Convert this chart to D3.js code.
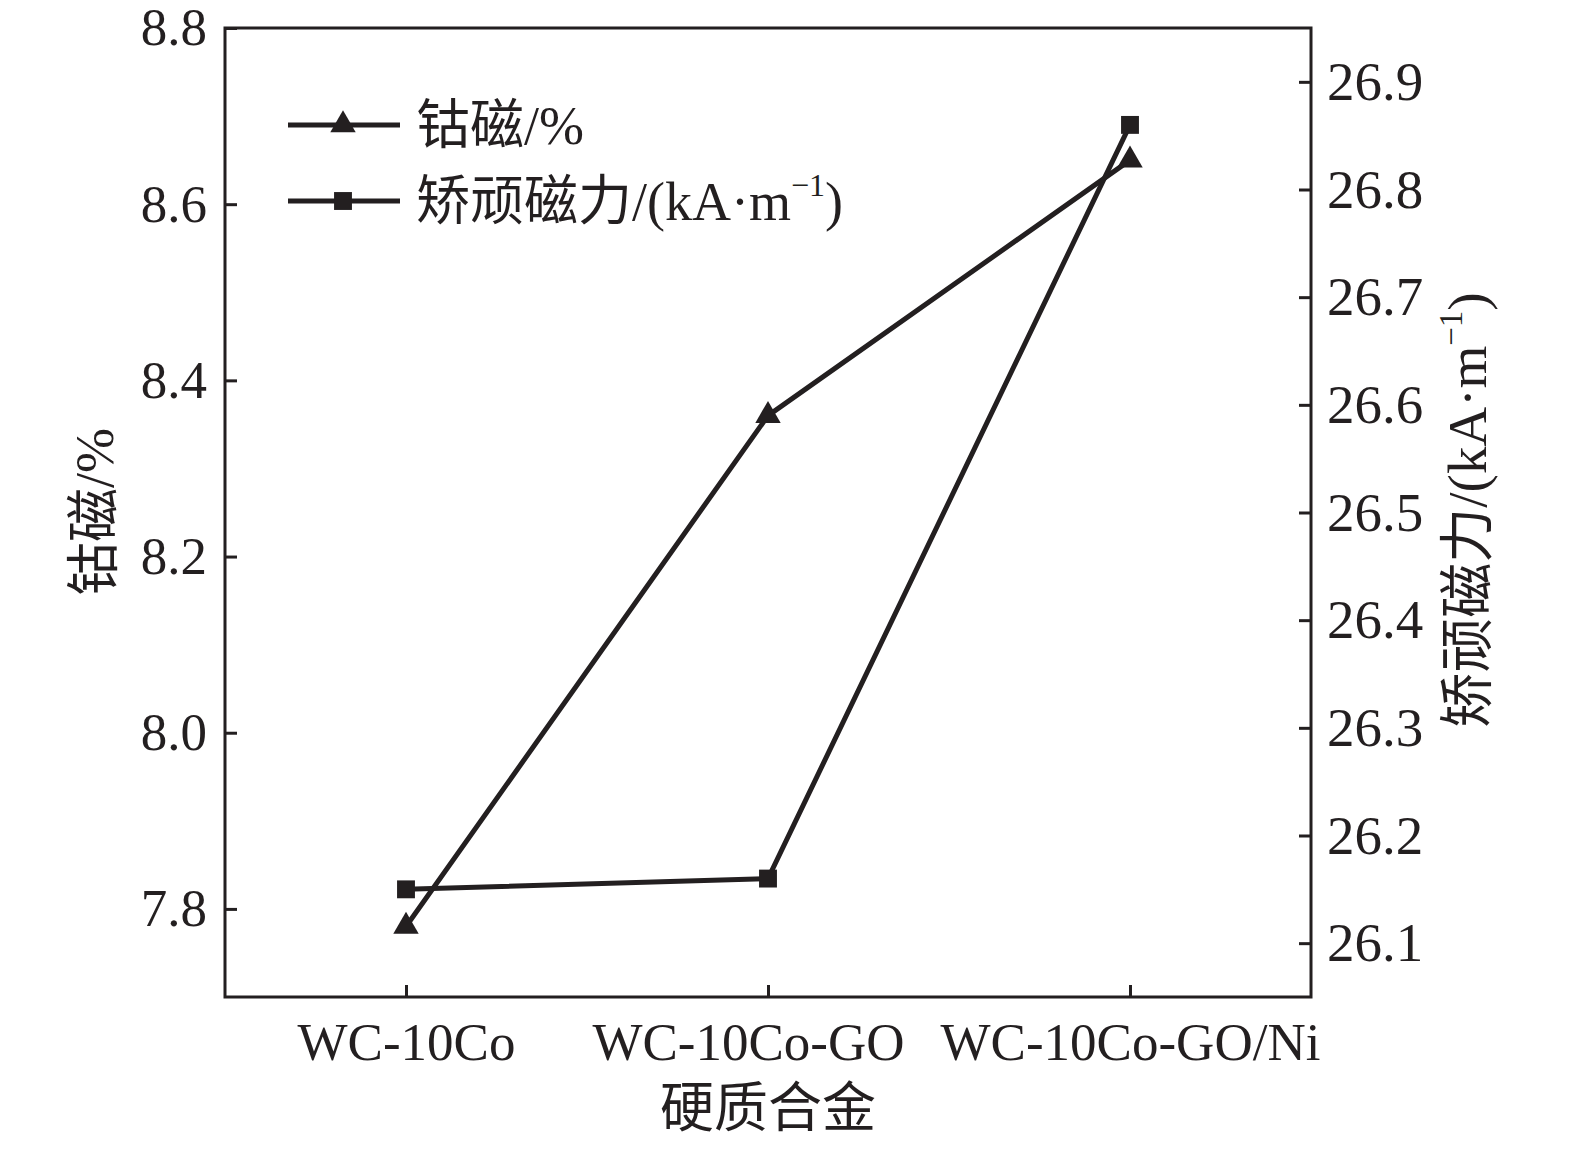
<!DOCTYPE html>
<html>
<head>
<meta charset="utf-8">
<script src="https://cdn.jsdelivr.net/npm/d3@7"></script>
<style>
  body { margin: 0; background: #fff; }
  text { font-family: "Liberation Serif", "Noto Sans CJK SC", serif; fill: #231f20; }
</style>
</head>
<body>
<script>
// alloys on the x axis
var alloys = ["WC-10Co", "WC-10Co-GO", "WC-10Co-GO/Ni"];
// cobalt magnetism, % (left axis)
var cobaltMag = [7.78, 8.36, 8.65];
// coercive force, kA/m (right axis)
var coercive = [26.15, 26.16, 26.86];
var leftTicks = [7.8, 8.0, 8.2, 8.4, 8.6, 8.8];
var rightTicks = [26.1, 26.2, 26.3, 26.4, 26.5, 26.6, 26.7, 26.8, 26.9];

var W = 1575, H = 1151;
var box = {l: 225, r: 1311, t: 28, b: 997};
var ink = "#231f20";

var svg = d3.select("body").append("svg")
    .attr("width", W).attr("height", H);

var x = d3.scalePoint().domain(alloys).range([box.l, box.r]).padding(0.5);
var yL = d3.scaleLinear().domain([7.7, 8.8]).range([box.b, box.t]);
var yR = d3.scaleLinear().domain([26.05, 26.95]).range([box.b, box.t]);

// frame
svg.append("rect")
    .attr("x", box.l).attr("y", box.t)
    .attr("width", box.r - box.l).attr("height", box.b - box.t)
    .attr("fill", "none").attr("stroke", ink).attr("stroke-width", 3);

function styleAxis(g, size) {
    g.select(".domain").remove();
    g.selectAll(".tick line").attr("stroke", ink).attr("stroke-width", 3);
    g.selectAll(".tick text").attr("font-size", size).attr("fill", ink)
        .attr("font-family", "Liberation Serif");
}

svg.append("g").attr("transform", "translate(" + box.l + ",0)")
    .call(d3.axisLeft(yL).tickValues(leftTicks).tickFormat(d3.format(".1f"))
        .tickSizeInner(-12).tickSizeOuter(0).tickPadding(18))
    .call(styleAxis, 53);

svg.append("g").attr("transform", "translate(" + box.r + ",0)")
    .call(d3.axisRight(yR).tickValues(rightTicks).tickFormat(d3.format(".1f"))
        .tickSizeInner(-12).tickSizeOuter(0).tickPadding(16))
    .call(styleAxis, 55);

var xg = svg.append("g").attr("transform", "translate(0," + box.b + ")")
    .call(d3.axisBottom(x).tickSizeInner(-12).tickSizeOuter(0).tickPadding(25))
    .call(styleAxis, 53);
// the middle label sits a little left of its tick in the original
xg.selectAll(".tick text").attr("dx", function(d, i) { return i == 1 ? -20 : 0; });

// series lines
var lineL = d3.line().x(function(d, i) { return x(alloys[i]); }).y(function(d) { return yL(d); });
var lineR = d3.line().x(function(d, i) { return x(alloys[i]); }).y(function(d) { return yR(d); });

svg.append("path").datum(cobaltMag).attr("d", lineL)
    .attr("fill", "none").attr("stroke", ink).attr("stroke-width", 5);
svg.append("path").datum(coercive).attr("d", lineR)
    .attr("fill", "none").attr("stroke", ink).attr("stroke-width", 5);

var tri = d3.symbol().type(d3.symbolTriangle).size(280);
var sq = d3.symbol().type(d3.symbolSquare).size(320);

svg.append("g").selectAll("path").data(cobaltMag).join("path")
    .attr("d", tri)
    .attr("transform", function(d, i) { return "translate(" + x(alloys[i]) + "," + yL(d) + ")"; })
    .attr("fill", ink);
svg.append("g").selectAll("path").data(coercive).join("path")
    .attr("d", sq)
    .attr("transform", function(d, i) { return "translate(" + x(alloys[i]) + "," + yR(d) + ")"; })
    .attr("fill", ink);

// legend
var leg = svg.append("g");
var legRows = [{sym: tri, y: 125, label: "钴磁/%"}, {sym: sq, y: 201, label: "矫顽磁力/(kA·m"}];
legRows.forEach(function(r, i) {
    leg.append("line").attr("x1", 288).attr("x2", 400).attr("y1", r.y).attr("y2", r.y)
        .attr("stroke", ink).attr("stroke-width", 5);
    leg.append("path").attr("d", r.sym).attr("transform", "translate(343," + r.y + ")").attr("fill", ink);
    var t = leg.append("text").attr("x", 416).attr("y", r.y + 19).attr("font-size", 54).text(r.label);
    if (i == 1) {
        t.append("tspan").attr("font-size", 32).attr("dy", -24).text("−1");
        t.append("tspan").attr("dy", 24).text(")");
    }
});

// axis titles
svg.append("text").attr("transform", "translate(113,512) rotate(-90)")
    .attr("text-anchor", "middle").attr("font-size", 54).text("钴磁/%");

var rt = svg.append("text").attr("transform", "translate(1486,510) rotate(-90)")
    .attr("text-anchor", "middle").attr("font-size", 55).text("矫顽磁力/(kA·m");
rt.append("tspan").attr("font-size", 33).attr("dy", -24).text("−1");
rt.append("tspan").attr("dy", 24).text(")");

svg.append("text").attr("x", (box.l + box.r) / 2).attr("y", 1127)
    .attr("text-anchor", "middle").attr("font-size", 54).text("硬质合金");
</script>
</body>
</html>
